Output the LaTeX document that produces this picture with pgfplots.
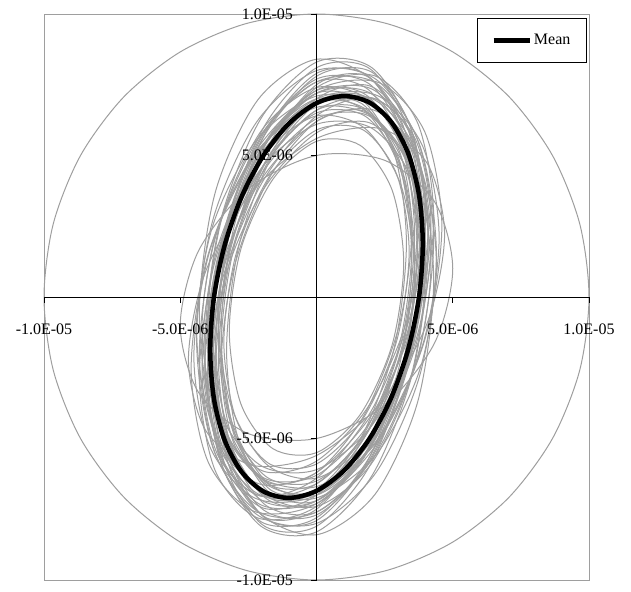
\documentclass[border=0pt]{standalone}
\usepackage{pgfplots}
\pgfplotsset{compat=1.18}
\usepackage{fontspec}
\setmainfont{Liberation Serif}
\definecolor{lgray}{RGB}{158,158,158}
\begin{document}
\begin{tikzpicture}
\begin{axis}[
  at={(0,0)}, anchor=south west,
  scale only axis, width=545pt, height=566pt,
  xmin=-10, xmax=10, ymin=-10, ymax=10,
  axis lines=middle, axis on top, clip=false,
  axis line style={black, line width=0.9pt, -},
  tick align=outside, major tick length=6pt,
  tick style={black, line width=0.9pt},
  xtick={-10,-5,0,5,10}, ytick={-10,-5,0,5,10},
  xticklabels={-1.0E-05,-5.0E-06,0.0E+00,5.0E-06,1.0E-05},
  yticklabels={-1.0E-05,-5.0E-06,0.0E+00,5.0E-06,1.0E-05},
  ticklabel style={font=\fontsize{16}{19}\selectfont},
  xticklabel style={anchor=north, yshift=-17pt},
  yticklabel style={anchor=east, xshift=-14pt},
  legend style={at={(0.996,0.993)}, anchor=north east, draw=black, line width=0.9pt,
    font=\fontsize{16}{19}\selectfont, inner xsep=14pt, inner ysep=14pt, cells={anchor=west}},
  legend image code/.code={\draw[line width=4.5pt] (0pt,0pt) -- (36pt,0pt);},
  gl/.style={color=lgray, line width=1pt, smooth cycle, forget plot},
]
% frame
\draw[lgray, line width=0.8pt] (rel axis cs:0,0) rectangle (rel axis cs:1,1);
% big circle, radius 1e-5
\addplot[gl] coordinates {(10,0) (9.659,2.588) (8.660,5) (7.071,7.071) (5,8.660) (2.588,9.659) (0,10) (-2.588,9.659) (-5,8.660) (-7.071,7.071) (-8.660,5) (-9.659,2.588) (-10,0) (-9.659,-2.588) (-8.660,-5) (-7.071,-7.071) (-5,-8.660) (-2.588,-9.659) (0,-10) (2.588,-9.659) (5,-8.660) (7.071,-7.071) (8.660,-5) (9.659,-2.588)};
% individual orbits (units of 1e-6)
\addplot[gl] coordinates {(3.6,1.5) (3.12,4.55) (1.8,6.38) (0,6.5) (-1.8,4.88) (-3.12,1.95) (-3.6,-1.5) (-3.12,-4.55) (-1.8,-6.38) (0,-6.5) (1.8,-4.88) (3.12,-1.95)};
\addplot[gl] coordinates {(4.1,2.2) (3.55,5.51) (2.05,7.34) (0,7.2) (-2.05,5.14) (-3.55,1.70) (-4.1,-2.2) (-3.55,-5.51) (-2.05,-7.34) (0,-7.2) (2.05,-5.14) (3.55,-1.70)};
\addplot[gl] coordinates {(3.8,1.2) (3.29,4.49) (1.9,6.58) (0,6.9) (-1.9,5.38) (-3.29,2.41) (-3.8,-1.2) (-3.29,-4.49) (-1.9,-6.58) (0,-6.9) (1.9,-5.38) (3.29,-2.41)};
\addplot[gl] coordinates {(4.3,2.0) (3.72,5.53) (2.15,7.58) (0,7.6) (-2.15,5.58) (-3.72,2.07) (-4.3,-2.0) (-3.72,-5.53) (-2.15,-7.58) (0,-7.6) (2.15,-5.58) (3.72,-2.07)};
\addplot[gl] coordinates {(3.5,2.4) (3.03,5.18) (1.75,6.57) (0,6.2) (-1.75,4.17) (-3.03,1.02) (-3.5,-2.4) (-3.03,-5.18) (-1.75,-6.57) (0,-6.2) (1.75,-4.17) (3.03,-1.02)};
\addplot[gl] coordinates {(4.0,1.0) (3.46,4.57) (2.0,6.91) (0,7.4) (-2.0,5.91) (-3.46,2.83) (-4.0,-1.0) (-3.46,-4.57) (-2.0,-6.91) (0,-7.4) (2.0,-5.91) (3.46,-2.83)};
\addplot[gl] coordinates {(3.7,2.0) (3.20,5.68) (1.85,7.84) (0,7.9) (-1.85,5.84) (-3.20,2.22) (-3.7,-2.0) (-3.20,-5.68) (-1.85,-7.84) (0,-7.9) (1.85,-5.84) (3.20,-2.22)};
\addplot[gl] coordinates {(4.2,2.6) (3.64,5.55) (2.1,7.02) (0,6.6) (-2.1,4.42) (-3.64,1.05) (-4.2,-2.6) (-3.64,-5.55) (-2.1,-7.02) (0,-6.6) (2.1,-4.42) (3.64,-1.05)};
\addplot[gl] coordinates {(3.4,1.6) (2.94,4.34) (1.7,5.91) (0,5.9) (-1.7,4.31) (-2.94,1.56) (-3.4,-1.6) (-2.94,-4.34) (-1.7,-5.91) (0,-5.9) (1.7,-4.31) (2.94,-1.56)};
\addplot[gl] coordinates {(4.4,1.5) (3.81,5.30) (2.2,7.68) (0,8.0) (-2.2,6.18) (-3.81,2.70) (-4.4,-1.5) (-3.81,-5.30) (-2.2,-7.68) (0,-8.0) (2.2,-6.18) (3.81,-2.70)};
\addplot[gl] coordinates {(3.9,2.8) (3.38,5.93) (1.95,7.46) (0,7.0) (-1.95,4.66) (-3.38,1.08) (-3.9,-2.8) (-3.38,-5.93) (-1.95,-7.46) (0,-7.0) (1.95,-4.66) (3.38,-1.08)};
\addplot[gl] coordinates {(3.6,0.8) (3.12,3.89) (1.8,5.94) (0,6.4) (-1.8,5.14) (-3.12,2.51) (-3.6,-0.8) (-3.12,-3.89) (-1.8,-5.94) (0,-6.4) (1.8,-5.14) (3.12,-2.51)};
\addplot[gl] coordinates {(4.1,1.8) (3.55,5.71) (2.05,8.09) (0,8.3) (-2.05,6.29) (-3.55,2.59) (-4.1,-1.8) (-3.55,-5.71) (-2.05,-8.09) (0,-8.3) (2.05,-6.29) (3.55,-2.59)};
\addplot[gl] coordinates {(3.8,2.3) (3.29,4.89) (1.9,6.17) (0,5.8) (-1.9,3.87) (-3.29,0.91) (-3.8,-2.3) (-3.29,-4.89) (-1.9,-6.17) (0,-5.8) (1.9,-3.87) (3.29,-0.91)};
\addplot[gl] coordinates {(4.5,2.1) (3.90,5.32) (2.25,7.11) (0,7.0) (-2.25,5.01) (-3.90,1.68) (-4.5,-2.1) (-3.90,-5.32) (-2.25,-7.11) (0,-7.0) (2.25,-5.01) (3.90,-1.68)};
\addplot[gl] coordinates {(3.3,1.9) (2.86,5.05) (1.65,6.84) (0,6.8) (-1.65,4.94) (-2.86,1.76) (-3.3,-1.9) (-2.86,-5.05) (-1.65,-6.84) (0,-6.8) (1.65,-4.94) (2.86,-1.76)};
\addplot[gl] coordinates {(4.0,1.4) (3.46,4.26) (2.0,5.98) (0,6.1) (-2.0,4.58) (-3.46,1.84) (-4.0,-1.4) (-3.46,-4.26) (-2.0,-5.98) (0,-6.1) (2.0,-4.58) (3.46,-1.84)};
\addplot[gl] coordinates {(3.7,2.6) (3.20,6.00) (1.85,7.80) (0,7.5) (-1.85,5.20) (-3.20,1.50) (-3.7,-2.6) (-3.20,-6.00) (-1.85,-7.80) (0,-7.5) (1.85,-5.20) (3.20,-1.50)};
\addplot[gl] coordinates {(4.2,1.1) (3.64,4.30) (2.1,6.35) (0,6.7) (-2.1,5.25) (-3.64,2.40) (-4.2,-1.1) (-3.64,-4.30) (-2.1,-6.35) (0,-6.7) (2.1,-5.25) (3.64,-2.40)};
\addplot[gl] coordinates {(3.9,1.7) (3.38,5.32) (1.95,7.52) (0,7.7) (-1.95,5.82) (-3.38,2.38) (-3.9,-1.7) (-3.38,-5.32) (-1.95,-7.52) (0,-7.7) (1.95,-5.82) (3.38,-2.38)};
\addplot[gl] coordinates {(4.6,2.5) (3.98,5.82) (2.3,7.57) (0,7.3) (-2.3,5.07) (-3.98,1.49) (-4.6,-2.5) (-3.98,-5.82) (-2.3,-7.57) (0,-7.3) (2.3,-5.07) (3.98,-1.49)};
\addplot[gl] coordinates {(3.5,1.3) (3.03,4.73) (1.75,6.89) (0,7.2) (-1.75,5.59) (-3.03,2.47) (-3.5,-1.3) (-3.03,-4.73) (-1.75,-6.89) (0,-7.2) (1.75,-5.59) (3.03,-2.47)};
\addplot[gl] coordinates {(4.0,3.0) (3.46,5.80) (2.0,7.04) (0,6.4) (-2.0,4.04) (-3.46,0.60) (-4.0,-3.0) (-3.46,-5.80) (-2.0,-7.04) (0,-6.4) (2.0,-4.04) (3.46,-0.60)};
\addplot[gl] coordinates {(5.0,1.0) (4.33,3.37) (2.5,4.83) (0,5.0) (-2.5,3.83) (-4.33,1.63) (-5.0,-1.0) (-4.33,-3.37) (-2.5,-4.83) (0,-5.0) (2.5,-3.83) (4.33,-1.63)};
\addplot[gl] coordinates {(4.7,2.2) (4.07,4.71) (2.35,5.95) (0,5.6) (-2.35,3.75) (-4.07,0.90) (-4.7,-2.2) (-4.07,-4.71) (-2.35,-5.95) (0,-5.6) (2.35,-3.75) (4.07,-0.90)};
\addplot[gl] coordinates {(3.2,1.2) (2.77,3.79) (1.6,5.36) (0,5.5) (-1.6,4.16) (-2.77,1.71) (-3.2,-1.2) (-2.77,-3.79) (-1.6,-5.36) (0,-5.5) (1.6,-4.16) (2.77,-1.71)};
\addplot[gl] coordinates {(4.3,0.6) (3.72,4.72) (2.15,7.57) (0,8.4) (-2.15,6.97) (-3.72,3.68) (-4.3,-0.6) (-3.72,-4.72) (-2.15,-7.57) (0,-8.4) (2.15,-6.97) (3.72,-3.68)};
\addplot[gl] coordinates {(3.8,1.9) (3.29,4.80) (1.9,6.41) (0,6.3) (-1.9,4.51) (-3.29,1.51) (-3.8,-1.9) (-3.29,-4.80) (-1.9,-6.41) (0,-6.3) (1.9,-4.51) (3.29,-1.51)};
\addplot[gl] coordinates {(4.0,2.4) (3.46,5.98) (2.0,7.96) (0,7.8) (-2.0,5.56) (-3.46,1.82) (-4.0,-2.4) (-3.46,-5.98) (-2.0,-7.96) (0,-7.8) (2.0,-5.56) (3.46,-1.82)};
\addplot[gl] coordinates {(3.6,2.2) (3.12,5.36) (1.8,7.08) (0,6.9) (-1.8,4.88) (-3.12,1.55) (-3.6,-2.2) (-3.12,-5.36) (-1.8,-7.08) (0,-6.9) (1.8,-4.88) (3.12,-1.55)};
\addplot[gl] coordinates {(4.4,1.2) (3.81,4.59) (2.2,6.75) (0,7.1) (-2.2,5.55) (-3.81,2.51) (-4.4,-1.2) (-3.81,-4.59) (-2.2,-6.75) (0,-7.1) (2.2,-5.55) (3.81,-2.51)};
\addplot[gl] coordinates {(3.7,1.6) (3.20,5.04) (1.85,7.12) (0,7.3) (-1.85,5.52) (-3.20,2.26) (-3.7,-1.6) (-3.20,-5.04) (-1.85,-7.12) (0,-7.3) (1.85,-5.52) (3.20,-2.26)};
\addplot[gl] coordinates {(4.2,2.0) (3.64,5.18) (2.1,6.98) (0,6.9) (-2.1,4.98) (-3.64,1.72) (-4.2,-2.0) (-3.64,-5.18) (-2.1,-6.98) (0,-6.9) (2.1,-4.98) (3.64,-1.72)};
\addplot[gl] coordinates {(3.9,2.1) (3.38,5.87) (1.95,8.07) (0,8.1) (-1.95,5.97) (-3.38,2.23) (-3.9,-2.1) (-3.38,-5.87) (-1.95,-8.07) (0,-8.1) (1.95,-5.97) (3.38,-2.23)};
\addplot[gl] coordinates {(3.5,1.8) (3.03,4.86) (1.75,6.62) (0,6.6) (-1.75,4.82) (-3.03,1.74) (-3.5,-1.8) (-3.03,-4.86) (-1.75,-6.62) (0,-6.6) (1.75,-4.82) (3.03,-1.74)};
\addplot[gl] coordinates {(4.3,2.8) (3.72,6.13) (2.15,7.81) (0,7.4) (-2.15,5.01) (-3.72,1.28) (-4.3,-2.8) (-3.72,-6.13) (-2.15,-7.81) (0,-7.4) (2.15,-5.01) (3.72,-1.28)};
\addplot[gl] coordinates {(3.8,1.5) (3.29,5.10) (1.9,7.33) (0,7.6) (-1.9,5.83) (-3.29,2.50) (-3.8,-1.5) (-3.29,-5.10) (-1.9,-7.33) (0,-7.6) (1.9,-5.83) (3.29,-2.50)};
\addplot[gl] coordinates {(4.1,2.5) (3.55,5.27) (2.05,6.62) (0,6.2) (-2.05,4.12) (-3.55,0.94) (-4.1,-2.5) (-3.55,-5.27) (-2.05,-6.62) (0,-6.2) (2.05,-4.12) (3.55,-0.94)};
\addplot[gl] coordinates {(3.6,1.0) (3.12,4.37) (1.8,6.56) (0,7.0) (-1.8,5.56) (-3.12,2.63) (-3.6,-1.0) (-3.12,-4.37) (-1.8,-6.56) (0,-7.0) (1.8,-5.56) (3.12,-2.63)};
\addplot[gl] coordinates {(4.0,1.9) (3.46,5.25) (2.0,7.19) (0,7.2) (-2.0,5.29) (-3.46,1.96) (-4.0,-1.9) (-3.46,-5.25) (-2.0,-7.19) (0,-7.2) (2.0,-5.29) (3.46,-1.96)};
% mean orbit
\addplot[black, line width=4.5pt, smooth cycle] coordinates {(3.9,1.87) (3.767,3.579) (3.377,5.044) (2.758,6.166) (1.95,6.867) (1.009,7.100) (0,6.85) (-1.009,6.132) (-1.95,4.997) (-2.758,3.522) (-3.377,1.806) (-3.767,-0.033) (-3.9,-1.87) (-3.767,-3.579) (-3.377,-5.044) (-2.758,-6.166) (-1.95,-6.867) (-1.009,-7.100) (0,-6.85) (1.009,-6.132) (1.95,-4.997) (2.758,-3.522) (3.377,-1.806) (3.767,0.033)};
\addlegendentry{Mean}
\end{axis}
\pgfresetboundingbox
\useasboundingbox (-44pt,-11pt) rectangle (587pt,580pt);
\end{tikzpicture}
\end{document}
